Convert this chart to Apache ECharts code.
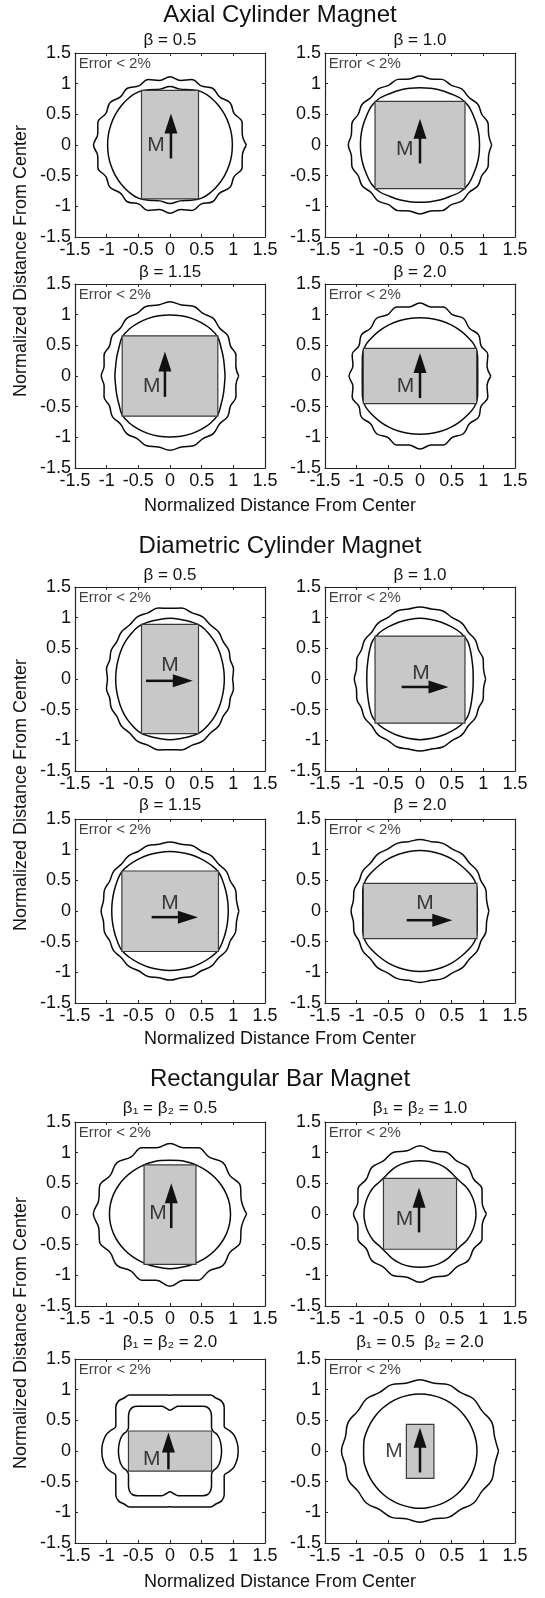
<!DOCTYPE html>
<html><head><meta charset="utf-8">
<script src="https://cdn.jsdelivr.net/npm/echarts@6/dist/echarts.min.js"></script>
<style>html,body{margin:0;padding:0;background:#fff}#c{width:545px;height:1598px}</style>
</head><body><div id="c"></div>
<script>
// ---------- text ----------
const groupTitles = ['Axial Cylinder Magnet', 'Diametric Cylinder Magnet', 'Rectangular Bar Magnet'];
const subtitles = ['β = 0.5', 'β = 1.0', 'β = 1.15', 'β = 2.0',
  'β = 0.5', 'β = 1.0', 'β = 1.15', 'β = 2.0',
  'β₁ = β₂ = 0.5', 'β₁ = β₂ = 1.0', 'β₁ = β₂ = 2.0', 'β₁ = 0.5  β₂ = 2.0'];
const axisTitle = 'Normalized Distance From Center';
const errorNote = 'Error < 2%';
const magnetLabel = 'M';
const axisMin = -1.5, axisMax = 1.5, axisStep = 0.5;

// ---------- contour radii (evenly spaced angles from +x, counter-clockwise) ----------
const outerA1 = [1.207,1.155,1.197,1.136,1.172,1.108,1.144,1.081,1.122,1.066,1.114,1.066,1.122,1.081,1.144,1.108,1.172,1.136,1.197,1.155,1.207,1.155,1.197,1.136,1.172,1.108,1.144,1.081,1.122,1.066,1.114,1.066,1.122,1.081,1.144,1.108,1.172,1.136,1.197,1.155];
const innerA1 = [0.985,0.987,0.99,0.995,1.0,1.005,1.0,0.96,0.925,0.955,0.925,0.96,1.0,1.005,1.0,0.995,0.99,0.987,0.985,0.987,0.99,0.995,1.0,1.005,1.0,0.96,0.925,0.955,0.925,0.96,1.0,1.005,1.0,0.995,0.99,0.987];
const outerA2 = [1.132,1.097,1.131,1.096,1.129,1.094,1.127,1.092,1.125,1.09,1.124,1.09,1.125,1.092,1.127,1.094,1.129,1.096,1.131,1.097,1.132,1.097,1.131,1.096,1.129,1.094,1.127,1.092,1.125,1.09,1.124,1.09,1.125,1.092,1.127,1.094,1.129,1.096,1.131,1.097];
const innerA2 = [0.94,0.945,0.955,0.97,0.995,0.995,0.965,0.95,0.938,0.935,0.938,0.95,0.965,0.995,0.995,0.97,0.955,0.945,0.94,0.945,0.955,0.97,0.995,0.995,0.965,0.95,0.938,0.935,0.938,0.95,0.965,0.995,0.995,0.97,0.955,0.945];
const outerA3 = [1.085,1.053,1.095,1.073,1.124,1.107,1.162,1.146,1.196,1.171,1.21,1.171,1.196,1.146,1.162,1.107,1.124,1.073,1.095,1.053,1.085,1.053,1.095,1.073,1.124,1.107,1.162,1.146,1.196,1.171,1.21,1.171,1.196,1.146,1.162,1.107,1.124,1.073,1.095,1.053];
const innerA3 = [0.87,0.872,0.895,0.93,0.985,1.0,1.0,1.0,0.998,0.995,0.998,1.0,1.0,1.0,0.985,0.93,0.895,0.872,0.87,0.872,0.895,0.93,0.985,1.0,1.0,1.0,0.998,0.995,0.998,1.0,1.0,1.0,0.985,0.93,0.895,0.872];
const outerA4 = [1.12,1.072,1.126,1.083,1.143,1.103,1.164,1.124,1.183,1.138,1.19,1.138,1.183,1.124,1.164,1.103,1.143,1.083,1.126,1.072,1.12,1.072,1.126,1.083,1.143,1.103,1.164,1.124,1.183,1.138,1.19,1.138,1.183,1.124,1.164,1.103,1.143,1.083,1.126,1.072];
const innerA4 = [0.912,0.925,0.968,0.995,0.985,0.975,0.968,0.96,0.952,0.948,0.952,0.96,0.968,0.975,0.985,0.995,0.968,0.925,0.912,0.925,0.968,0.995,0.985,0.975,0.968,0.96,0.952,0.948,0.952,0.96,0.968,0.975,0.985,0.995,0.968,0.925];
const outerD1 = [0.988,1.015,1.001,1.04,1.037,1.085,1.087,1.136,1.134,1.172,1.153,1.172,1.134,1.136,1.087,1.085,1.037,1.04,1.001,1.015,0.988,1.015,1.001,1.04,1.037,1.085,1.087,1.136,1.134,1.172,1.153,1.172,1.134,1.136,1.087,1.085,1.037,1.04,1.001,1.015];
const innerD1 = [0.858,0.862,0.875,0.9,0.93,0.96,0.99,0.99,0.985,0.99,0.985,0.99,0.99,0.96,0.93,0.9,0.875,0.862,0.858,0.862,0.875,0.9,0.93,0.96,0.99,0.99,0.985,0.99,0.985,0.99,0.99,0.96,0.93,0.9,0.875,0.862];
const outerD2 = [1.037,1.016,1.049,1.039,1.081,1.078,1.125,1.123,1.166,1.154,1.175,1.154,1.166,1.123,1.125,1.078,1.081,1.039,1.049,1.016,1.037,1.016,1.049,1.039,1.081,1.078,1.125,1.123,1.166,1.154,1.175,1.154,1.166,1.123,1.125,1.078,1.081,1.039,1.049,1.016];
const innerD2 = [0.84,0.85,0.875,0.92,0.975,0.99,0.985,0.985,0.985,0.99,0.985,0.985,0.985,0.99,0.975,0.92,0.875,0.85,0.84,0.85,0.875,0.92,0.975,0.99,0.985,0.985,0.985,0.99,0.985,0.985,0.985,0.99,0.975,0.92,0.875,0.85];
const outerD3 = [1.087,1.064,1.09,1.07,1.1,1.082,1.112,1.094,1.123,1.102,1.127,1.102,1.123,1.094,1.112,1.082,1.1,1.07,1.09,1.064,1.087,1.064,1.09,1.07,1.1,1.082,1.112,1.094,1.123,1.102,1.127,1.102,1.123,1.094,1.112,1.082,1.1,1.07,1.09,1.064];
const innerD3 = [0.92,0.925,0.94,0.965,0.995,0.99,0.98,0.975,0.97,0.97,0.97,0.975,0.98,0.99,0.995,0.965,0.94,0.925,0.92,0.925,0.94,0.965,0.995,0.99,0.98,0.975,0.97,0.97,0.97,0.975,0.98,0.99,0.995,0.965,0.94,0.925];
const outerD4 = [1.088,1.066,1.095,1.08,1.115,1.105,1.142,1.131,1.16,1.145,1.165,1.145,1.16,1.131,1.142,1.105,1.115,1.08,1.095,1.066,1.088,1.066,1.095,1.08,1.115,1.105,1.142,1.131,1.16,1.145,1.165,1.145,1.16,1.131,1.142,1.105,1.115,1.08,1.095,1.066];
const innerD4 = [0.905,0.918,0.962,0.995,0.99,0.985,0.985,0.985,0.985,0.987,0.985,0.985,0.985,0.985,0.99,0.995,0.962,0.918,0.905,0.918,0.962,0.995,0.99,0.985,0.985,0.985,0.985,0.987,0.985,0.985,0.985,0.985,0.99,0.995,0.962,0.918];
const outerR1 = [1.21,1.148,1.202,1.134,1.184,1.115,1.167,1.102,1.15,1.102,1.167,1.115,1.184,1.134,1.202,1.148,1.21,1.148,1.202,1.134,1.184,1.115,1.167,1.102,1.18,1.102,1.167,1.115,1.184,1.134,1.202,1.148];
const innerR1 = [0.956,0.954,0.947,0.936,0.924,0.912,0.9,0.892,0.886,0.876,0.886,0.892,0.9,0.912,0.924,0.936,0.947,0.954,0.956,0.954,0.947,0.936,0.924,0.912,0.9,0.892,0.886,0.892,0.886,0.892,0.9,0.912,0.924,0.936,0.947,0.954];
const outerR2 = [1.05,1.0,1.06,1.02,1.075,1.04,1.09,1.05,1.114,1.05,1.09,1.04,1.075,1.02,1.06,1.0,1.05,1.0,1.06,1.02,1.075,1.04,1.09,1.05,1.114,1.05,1.09,1.04,1.075,1.02,1.06,1.0];
const innerR2 = [0.885,0.88,0.87,0.855,0.825,0.825,0.85,0.865,0.87,0.87,0.87,0.865,0.85,0.825,0.825,0.855,0.87,0.88,0.885,0.88,0.87,0.855,0.825,0.825,0.85,0.865,0.87,0.87,0.87,0.865,0.85,0.825,0.825,0.855,0.87,0.88];
const outerR3 = [1.076,1.074,1.061,1.04,0.99,0.944,0.988,1.045,1.117,1.15,1.128,1.115,1.054,1.007,0.972,0.945,0.927,0.917,0.91,
  0.917,0.927,0.945,0.972,1.007,1.054,1.115,1.128,1.15,1.117,1.045,0.988,0.944,0.99,1.04,1.061,1.074,1.076,
  1.074,1.061,1.04,0.99,0.944,0.988,1.045,1.117,1.15,1.128,1.115,1.054,1.007,0.972,0.945,0.927,0.917,0.91,
  0.917,0.927,0.945,0.972,1.007,1.054,1.115,1.128,1.15,1.117,1.045,0.988,0.944,0.99,1.04,1.061,1.074];
const innerR3 = [0.814,0.813,0.81,0.805,0.79,0.756,0.757,0.8,0.856,0.909,0.926,0.889,0.841,0.803,0.775,0.754,0.739,0.7,0.665,
  0.7,0.739,0.754,0.775,0.803,0.841,0.889,0.926,0.909,0.856,0.8,0.757,0.756,0.79,0.805,0.81,0.813,0.814,
  0.813,0.81,0.805,0.79,0.756,0.757,0.8,0.856,0.909,0.926,0.889,0.841,0.803,0.775,0.754,0.739,0.7,0.665,
  0.7,0.739,0.754,0.775,0.803,0.841,0.889,0.926,0.909,0.856,0.8,0.757,0.756,0.79,0.805,0.81,0.813];
const outerR4 = [1.24,1.2,1.227,1.178,1.198,1.148,1.171,1.128,1.16,1.128,1.171,1.148,1.198,1.178,1.227,1.2,1.24,1.2,1.227,1.178,1.198,1.148,1.171,1.128,1.16,1.128,1.171,1.148,1.198,1.178,1.227,1.2];
const innerR4 = [0.9,0.9,0.9,0.904,0.909,0.915,0.921,0.926,0.929,0.928,0.929,0.926,0.921,0.915,0.909,0.904,0.9,0.9,0.89,0.9,0.9,0.904,0.909,0.915,0.921,0.926,0.929,0.935,0.929,0.926,0.921,0.915,0.909,0.904,0.9,0.9];

// ---------- magnet cross sections ----------
const magnetLeft   = [-0.45,-0.71,-0.755,-0.895,-0.45,-0.71,-0.76,-0.895,-0.41,-0.577,-0.656,-0.215];
const magnetRight  = [0.45,0.71,0.755,0.895,0.45,0.71,0.765,0.9,0.41,0.577,0.656,0.22];
const magnetBottom = [-0.88,-0.71,-0.655,-0.45,-0.89,-0.72,-0.66,-0.45,-0.82,-0.575,-0.328,-0.445];
const magnetTop    = [0.89,0.71,0.655,0.45,0.89,0.70,0.652,0.45,0.80,0.58,0.326,0.435];

// ---------- magnetization arrows and labels ----------
const arrowTailX = [0.015,0,-0.08,0,-0.38,-0.29,-0.29,-0.21,0.02,-0.015,-0.025,0];
const arrowTailY = [-0.22,-0.30,-0.34,-0.36,-0.03,-0.13,-0.10,-0.15,-0.23,-0.30,-0.30,-0.35];
const arrowTipX  = [0.015,0,-0.08,0,0.36,0.45,0.44,0.51,0.02,-0.015,-0.025,0];
const arrowTipY  = [0.515,0.43,0.40,0.375,-0.03,-0.13,-0.10,-0.15,0.50,0.43,0.30,0.38];
const labelMX = [-0.22,-0.24,-0.29,-0.23,0.0,0.015,0.0,0.08,-0.19,-0.245,-0.29,-0.41];
const labelMY = [0.0,-0.065,-0.16,-0.17,0.23,0.10,0.12,0.13,0.02,-0.08,-0.14,0.0];
const errorNoteX = -1.45, errorNoteY = 1.33;

const outerCurves = [outerA1,outerA2,outerA3,outerA4,outerD1,outerD2,outerD3,outerD4,outerR1,outerR2,outerR3,outerR4];
const innerCurves = [innerA1,innerA2,innerA3,innerA4,innerD1,innerD2,innerD3,innerD4,innerR1,innerR2,innerR3,innerR4];

// ---------- layout ----------
const FONT = "'Liberation Sans', Arial, Helvetica, sans-serif";
const gridLefts = [75, 325];
const gridTops = [53, 284, 587, 819, 1122, 1359];
const gridW = 190, gridH = 184;
const subtitleY = [40, 272, 575, 805, 1108, 1342];
const groupTitleY = [15, 546, 1079];
const xTitleY = [506, 1039, 1582];
const yTitleY = [261, 795, 1333];
const textColor = '#111', frameColor = '#262626';

function polarToXY(r) {
  const n = r.length;
  const pts = r.map((v, i) => {
    const a = 2 * Math.PI * i / n;
    return [v * Math.cos(a), v * Math.sin(a)];
  });
  pts.push(pts[0]);
  return pts;
}

const grids = [], xAxes = [], yAxes = [], series = [], graphics = [];
for (let i = 0; i < 12; i++) {
  const row = Math.floor(i / 2), col = i % 2;
  grids.push({left: gridLefts[col], top: gridTops[row], width: gridW, height: gridH, containLabel: false});
  const base = {gridIndex: i, type: 'value', min: axisMin, max: axisMax, interval: axisStep,
    splitLine: {show: false},
    axisLine: {show: true, onZero: false, lineStyle: {color: frameColor, width: 1.2}},
    axisTick: {show: true, inside: true, length: 3, lineStyle: {color: frameColor}}};
  xAxes.push(Object.assign({}, base, {position: 'bottom',
    axisLabel: {show: true, margin: 4, fontSize: 18, color: textColor, fontFamily: FONT}}));
  xAxes.push(Object.assign({}, base, {position: 'top', axisLabel: {show: false}}));
  yAxes.push(Object.assign({}, base, {position: 'left',
    axisLabel: {show: true, margin: 4, fontSize: 18, color: textColor, fontFamily: FONT}}));
  yAxes.push(Object.assign({}, base, {position: 'right', axisLabel: {show: false}}));
  const ax = {xAxisIndex: 2 * i, yAxisIndex: 2 * i};
  [outerCurves[i], innerCurves[i]].forEach(c => {
    series.push(Object.assign({type: 'line', data: polarToXY(c), smooth: 0.4, showSymbol: false,
      symbol: 'none', lineStyle: {color: '#0a0a0a', width: 1.5}, z: 2, silent: true}, ax));
  });
  series.push(Object.assign({type: 'custom', z: 3, silent: true,
    data: [[magnetLeft[i], magnetBottom[i], magnetRight[i], magnetTop[i]]],
    encode: {x: [0, 2], y: [1, 3]},
    renderItem: (p, api) => {
      const a = api.coord([api.value(0), api.value(1)]);
      const b = api.coord([api.value(2), api.value(3)]);
      return {type: 'rect', shape: {x: Math.min(a[0], b[0]), y: Math.min(a[1], b[1]),
        width: Math.abs(b[0] - a[0]), height: Math.abs(b[1] - a[1])},
        style: {fill: '#c8c8c8', stroke: '#3a3a3a', lineWidth: 1.2}};
    }}, ax));
  series.push(Object.assign({type: 'custom', z: 4, silent: true,
    data: [[arrowTailX[i], arrowTailY[i], arrowTipX[i], arrowTipY[i]]],
    encode: {x: [0, 2], y: [1, 3]},
    renderItem: (p, api) => {
      const t = api.coord([api.value(0), api.value(1)]);
      const h = api.coord([api.value(2), api.value(3)]);
      const dx = h[0] - t[0], dy = h[1] - t[1], L = Math.hypot(dx, dy);
      const ux = dx / L, uy = dy / L, nx = -uy, ny = ux;
      const hl = 20, hw = 6.5;
      const bx = h[0] - ux * hl, by = h[1] - uy * hl;
      return {type: 'group', children: [
        {type: 'line', shape: {x1: t[0], y1: t[1], x2: bx + ux * 2, y2: by + uy * 2},
          style: {stroke: '#111', lineWidth: 2.5}},
        {type: 'polygon', shape: {points: [[h[0], h[1]], [bx + nx * hw, by + ny * hw], [bx - nx * hw, by - ny * hw]]},
          style: {fill: '#111'}}
      ]};
    }}, ax));
  series.push(Object.assign({type: 'scatter', z: 5, silent: true, symbolSize: 1,
    itemStyle: {color: 'rgba(0,0,0,0)'},
    data: [[labelMX[i], labelMY[i]]],
    label: {show: true, position: 'inside', formatter: magnetLabel, fontSize: 21, color: '#111', fontFamily: FONT}}, ax));
  series.push(Object.assign({type: 'scatter', z: 5, silent: true, symbolSize: 1,
    itemStyle: {color: 'rgba(0,0,0,0)'},
    data: [[errorNoteX, errorNoteY]],
    label: {show: true, position: 'right', distance: 0, formatter: errorNote, fontSize: 15, color: '#111', fontFamily: FONT}}, ax));
  graphics.push({type: 'text', x: gridLefts[col] + gridW / 2, y: subtitleY[row],
    style: {text: subtitles[i], fontSize: 17, fontFamily: FONT, fill: textColor,
      textAlign: 'center', textVerticalAlign: 'middle', align: 'center', verticalAlign: 'middle'}});
}
for (let g = 0; g < 3; g++) {
  graphics.push({type: 'text', x: 280, y: groupTitleY[g],
    style: {text: groupTitles[g], fontSize: 24, fontFamily: FONT, fill: textColor,
      textAlign: 'center', textVerticalAlign: 'middle', align: 'center', verticalAlign: 'middle'}});
  graphics.push({type: 'text', x: 280, y: xTitleY[g],
    style: {text: axisTitle, fontSize: 18, fontFamily: FONT, fill: textColor,
      textAlign: 'center', textVerticalAlign: 'middle', align: 'center', verticalAlign: 'middle'}});
  graphics.push({type: 'text', x: 21, y: yTitleY[g], rotation: Math.PI / 2,
    style: {text: axisTitle, fontSize: 18, fontFamily: FONT, fill: textColor,
      textAlign: 'center', textVerticalAlign: 'middle', align: 'center', verticalAlign: 'middle'}});
}

const chart = echarts.init(document.getElementById('c'), null, {renderer: 'canvas'});
chart.setOption({animation: false, backgroundColor: '#fff', grid: grids, xAxis: xAxes, yAxis: yAxes,
  series: series, graphic: graphics});
</script></body></html>
